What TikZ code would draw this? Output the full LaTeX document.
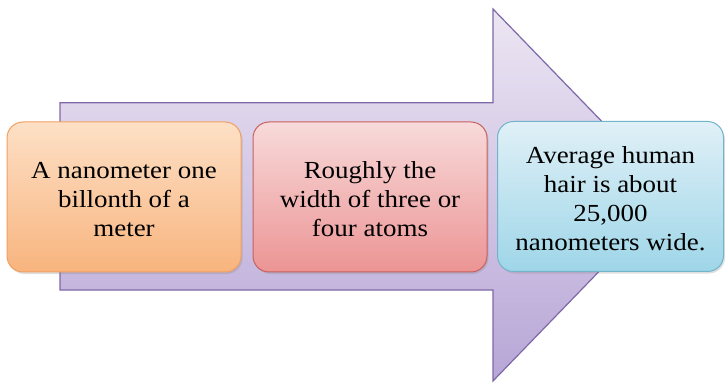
\documentclass[tikz,border=0pt]{standalone}
\usepackage{fontspec}
\newfontfamily\boxfont{Liberation Serif}
\usetikzlibrary{shadows}
\definecolor{arrowtop}{HTML}{ECE6F3}
\definecolor{arrowbot}{HTML}{B7A6D6}
\definecolor{arrowline}{HTML}{7E68A8}
\definecolor{ortop}{HTML}{FDE0C6}
\definecolor{orbot}{HTML}{F8B47E}
\definecolor{orline}{HTML}{F2A060}
\definecolor{rdtop}{HTML}{F8DADA}
\definecolor{rdbot}{HTML}{EC9494}
\definecolor{rdline}{HTML}{C8605E}
\definecolor{bltop}{HTML}{E0F0F7}
\definecolor{blbot}{HTML}{9ED6E8}
\definecolor{blline}{HTML}{72B4CC}
\newcommand{\boxtext}[1]{\raisebox{-5pt}[\height][\depth]{\scalebox{1.1}[1]{\begin{tabular}{@{}c@{}}#1\end{tabular}}}}
\tikzset{
  infobox/.style={rounded corners=16pt, line width=1pt, align=center,
    minimum height=150pt, inner sep=2pt,
    font=\boxfont\fontsize{24.5}{29}\selectfont,
    drop shadow={shadow xshift=1.5pt, shadow yshift=-2pt, opacity=0.25}},
}
\begin{document}
\begin{tikzpicture}[x=1pt,y=1pt]
\useasboundingbox (0,0) rectangle (725,383);
% big arrow (y measured from top: Y = 383 - y)
\draw[arrowline, line width=1.2pt, top color=arrowtop, bottom color=arrowbot, line join=miter]
  (60,280.3) -- (493,280.3) -- (493,374) -- (673,188) -- (493,2) -- (493,93) -- (60,93) -- cycle;
\node[infobox, draw=orline, top color=ortop, bottom color=orbot, minimum width=234pt]
  (nano) at (124,186) {\boxtext{A nanometer one\\billonth of a\\meter}};
\node[infobox, draw=rdline, top color=rdtop, bottom color=rdbot, minimum width=234pt]
  (atoms) at (370,186) {\boxtext{Roughly the\\width of three or\\four atoms}};
\node[infobox, draw=blline, top color=bltop, bottom color=blbot, minimum width=226pt]
  (hair) at (610.5,186.5) {\boxtext{Average human\\hair is about\\25,000\\nanometers wide.}};
\end{tikzpicture}
\end{document}
